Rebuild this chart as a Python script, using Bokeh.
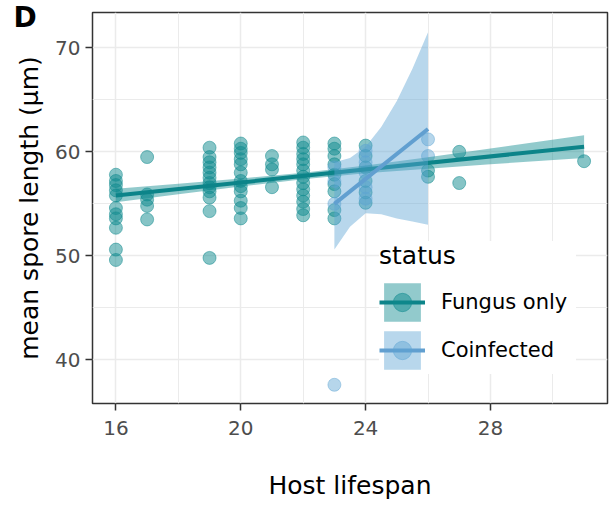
from bokeh.plotting import figure
from bokeh.models import Range1d, FixedTicker, Legend, LegendItem
from bokeh.embed import file_html
from bokeh.resources import INLINE

FONT = "DejaVu Sans"

# ---- data: Fungus only ----
fungus_x = ([16] * 11 + [17] * 5 + [19] * 12 + [20] * 12 + [21] * 4 + [22] * 13
            + [23] * 9 + [24] * 6 + [26] * 2 + [27] * 2 + [31])
fungus_y = [57.8, 57.2, 56.8, 56.3, 55.8, 54.6, 54.0, 53.6, 52.7, 50.6, 49.6,
            59.5, 55.9, 55.4, 54.8, 53.5,
            60.4, 59.5, 59.0, 58.5, 58.0, 57.5, 57.0, 56.6, 56.2, 55.6, 54.3, 49.8,
            60.8, 60.3, 59.9, 59.3, 58.8, 58.0, 57.2, 56.7, 56.2, 55.3, 54.6, 53.6,
            59.6, 58.8, 58.3, 56.6,
            60.9, 60.4, 59.8, 59.3, 58.8, 58.2, 57.6, 57.0, 56.4, 55.8, 55.2, 54.5, 53.9,
            60.8, 60.3, 59.6, 58.8, 57.8, 56.9, 56.2, 54.4, 53.6,
            60.6, 59.6, 58.5, 57.2, 56.1, 55.1,
            58.2, 57.6,
            60.0, 57.0,
            59.1]

# ---- data: Coinfected ----
coinf_x = [23] * 4 + [24] * 5 + [26] * 2
coinf_y = [58.5, 57.2, 55.0, 37.6,
           60.1, 59.0, 58.0, 56.6, 55.5,
           61.2, 59.6]

# ---- fitted lines and confidence bands ----
fungus_fit_x = [16, 31]
fungus_fit_y = [55.8, 60.5]
fungus_ci_x = [16, 18, 20, 22, 24, 26, 28, 31]
fungus_ci_lo = [55.15, 55.93, 56.67, 57.36, 57.93, 58.38, 58.81, 59.4]
fungus_ci_hi = [56.45, 56.93, 57.43, 58.0, 58.69, 59.48, 60.31, 61.6]

coinf_fit_x = [23, 26]
coinf_fit_y = [55.0, 62.2]
coinf_ci_x = [23, 23.5, 24, 24.5, 25, 25.5, 26]
coinf_ci_lo = [50.6, 52.8, 54.1, 54.0, 53.6, 53.3, 53.0]
coinf_ci_hi = [59.0, 59.4, 60.5, 62.4, 64.9, 68.0, 71.5]

x_ticks = [16, 20, 24, 28]
x_minor = [18, 22, 26, 30]
y_ticks = [40, 50, 60, 70]
y_minor = [45, 55, 65]

TEAL = "#0e8a8e"
BLUE = "#5ea3d3"

p = figure(width=612, height=506, output_backend="svg", toolbar_location=None,
           x_range=Range1d(15.25, 31.75), y_range=Range1d(35.8, 73.4),
           min_border_left=92, min_border_right=5, min_border_top=12,
           min_border_bottom=103)
p.background_fill_color = "white"
p.border_fill_color = "white"
p.outline_line_color = "#333333"
p.outline_line_width = 1.5

# panel tag "D" as the figure title, pulled into the top-left corner
p.title.text = "D"
p.title.text_font = FONT
p.title.text_font_size = "28px"
p.title.text_font_style = "bold"
p.title.text_color = "black"
p.title.align = "left"
p.title.offset = -79
p.title.standoff = -42

p.xaxis.ticker = FixedTicker(ticks=x_ticks, minor_ticks=x_minor)
p.yaxis.ticker = FixedTicker(ticks=y_ticks, minor_ticks=y_minor)
for g in (p.xgrid, p.ygrid):
    g.grid_line_color = "#ebebeb"
    g.grid_line_width = 1.5
    g.minor_grid_line_color = "#ebebeb"
    g.minor_grid_line_width = 1.0

for ax in (p.xaxis, p.yaxis):
    ax.axis_line_color = None
    ax.major_tick_line_color = "#333333"
    ax.major_tick_line_width = 1.5
    ax.major_tick_out = 7
    ax.major_tick_in = 0
    ax.minor_tick_line_color = None
    ax.major_label_text_font = FONT
    ax.major_label_text_font_size = "20px"
    ax.major_label_text_color = "#4d4d4d"
    ax.axis_label_text_font = FONT
    ax.axis_label_text_font_size = "25px"
    ax.axis_label_text_font_style = "normal"
    ax.axis_label_text_color = "black"

p.xaxis.axis_label = "Host lifespan"
p.yaxis.axis_label = "mean spore length (µm)"
p.xaxis.major_label_standoff = 10
p.xaxis.axis_label_standoff = 33
p.yaxis.major_label_standoff = 5
p.yaxis.axis_label_standoff = 8

# points
f_pts = p.scatter(fungus_x, fungus_y, size=13, marker="circle",
                  fill_color=TEAL, fill_alpha=0.5, line_color=TEAL, line_alpha=0.5,
                  line_width=1)
c_pts = p.scatter(coinf_x, coinf_y, size=13, marker="circle",
                  fill_color=BLUE, fill_alpha=0.45, line_color=BLUE, line_alpha=0.45,
                  line_width=1)

# smooths
f_band = p.varea(x=fungus_ci_x, y1=fungus_ci_lo, y2=fungus_ci_hi,
                 fill_color=TEAL, fill_alpha=0.45)
f_line = p.line(fungus_fit_x, fungus_fit_y, line_color="#0c8489", line_width=4)
c_band = p.varea(x=coinf_ci_x, y1=coinf_ci_lo, y2=coinf_ci_hi,
                 fill_color=BLUE, fill_alpha=0.44)
c_line = p.line(coinf_fit_x, coinf_fit_y, line_color="#619fd0", line_width=4)

legend = Legend(items=[
    LegendItem(label="Fungus only", renderers=[f_band, f_line, f_pts]),
    LegendItem(label="Coinfected", renderers=[c_band, c_line, c_pts]),
], location=(287, 29))
legend.title = "status"
legend.title_text_font = FONT
legend.title_text_font_size = "25px"
legend.title_text_font_style = "normal"
legend.title_text_color = "black"
legend.title_standoff = 8
legend.label_text_font = FONT
legend.label_text_font_size = "21px"
legend.label_text_color = "black"
legend.glyph_width = 46
legend.glyph_height = 48
legend.label_height = 48
legend.label_width = 135
legend.label_standoff = 16
legend.spacing = 0
legend.padding = 15
legend.margin = 0
legend.border_line_color = None
legend.background_fill_color = "white"
legend.background_fill_alpha = 1.0
p.add_layout(legend)

open("out.html", "w").write(file_html(p, INLINE))
